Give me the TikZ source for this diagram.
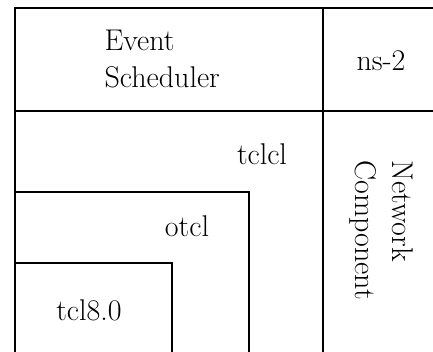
\documentclass[tikz,border=0pt]{standalone}
\usepackage{fontspec}
\begin{document}
\begin{tikzpicture}[x=1pt,y=-1pt,line width=1.2pt,
  lbl/.style={font=\fontsize{30}{37}\selectfont,inner sep=0pt}]
\useasboundingbox (0,0) rectangle (433,352);
\clip (0,0) rectangle (433,352);
% frame and layers
\draw (433,8) -- (15,8) -- (15,352);
\draw (15,111) -- (433,111);
\draw (323,8) -- (323,352);
\draw (15,192) -| (249,352);
\draw (15,263) -| (172,352);
% labels
\node[lbl,align=left,anchor=base west] (sched) at (104,88) {Event\\Scheduler};
\node[lbl,anchor=base] (ns) at (381,71) {ns-2};
\node[lbl,anchor=base] (tclcl) at (262,165) {tclcl};
\node[lbl,anchor=base] (otcl) at (187,237) {otcl};
\node[lbl,anchor=base] (tcl) at (89,320) {tcl8.0};
\node[lbl,align=left,anchor=base west,rotate=-90] (netcomp) at (355,160) {Network\\Component};
\end{tikzpicture}
\end{document}
